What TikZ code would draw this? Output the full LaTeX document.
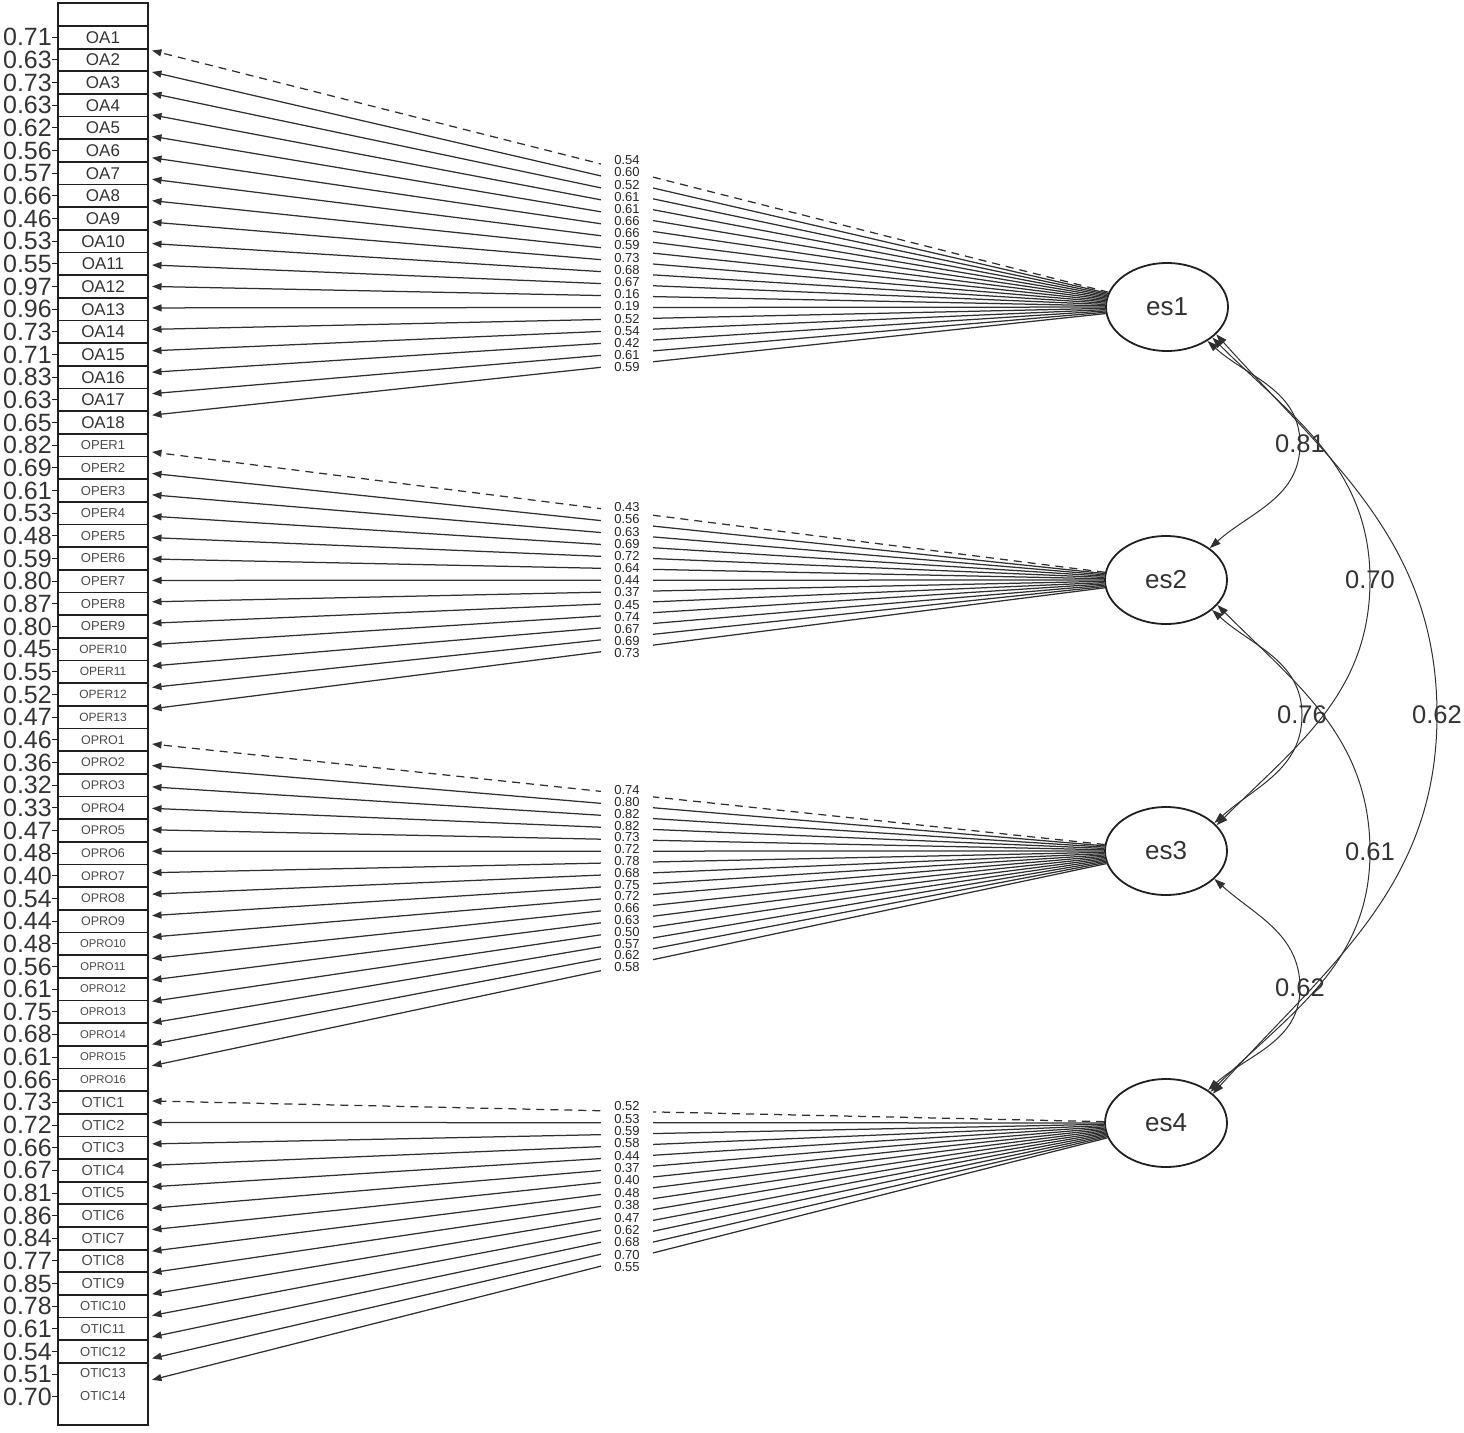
\documentclass[tikz,border=0pt]{standalone}
\usepackage{fontspec}
\setmainfont{Liberation Sans}
\usetikzlibrary{arrows.meta,shapes.geometric}
\definecolor{ln}{HTML}{303030}
\definecolor{bx}{HTML}{202020}
\definecolor{tx}{HTML}{333333}
\definecolor{tx2}{HTML}{4A4A4A}
\begin{document}
\begin{tikzpicture}[x=1pt,y=-1pt,
  itembox/.style={draw=bx, line width=1.7pt, minimum width=90pt, minimum height=22.66pt, inner sep=0pt, text=tx},
  itemtext/.style={inner sep=0pt, text=tx2},
  numlab/.style={inner sep=0pt, anchor=east, text=tx, font=\fontsize{25}{25}\selectfont},
  tickln/.style={draw=bx, line width=1pt},
  latent/.style={ellipse, draw=bx, line width=1.8pt, minimum width=122pt, minimum height=88pt, inner sep=0pt, font=\fontsize{26}{26}\selectfont, text=tx},
  load/.style={draw=ln, line width=1.25pt, -{Triangle[length=9.5pt,width=7pt]}},
  loaddash/.style={load, dash pattern=on 8pt off 6pt},
  loadlab/.style={fill=white, inner xsep=0pt, inner ysep=0pt, minimum width=52pt, text height=9.4pt, text depth=0pt, text=black!85, font=\fontsize{13}{13}\selectfont},
  corr/.style={draw=ln, line width=1pt, {Triangle[length=11pt,width=7.5pt]}-{Triangle[length=11pt,width=7.5pt]}},
  corrlab/.style={inner sep=0pt, text=tx, font=\fontsize{25.5}{25.5}\selectfont}
]
\useasboundingbox (0,0) rectangle (1464,1432);

% ---------- indicator column ----------
\node[itembox, minimum height=23pt] (topbox) at (103,14.5) {};
\foreach \j in {1,...,18} {
  \pgfmathsetmacro\cy{37.33+22.66*(\j-1)}
  \node[itembox, font=\fontsize{17}{17}\selectfont] (OA\j) at (103,\cy) {OA\j};
}
\foreach \j in {1,...,13} {
  \pgfmathsetmacro\cy{37.33+22.66*(\j+17)}
  \pgfmathsetmacro\fs{\j<10 ? 13 : 12}
  \node[itembox, text=tx2, font=\fontsize{\fs}{\fs}\selectfont] (OPER\j) at (103,\cy) {OPER\j};
}
\foreach \j in {1,...,16} {
  \pgfmathsetmacro\cy{37.33+22.66*(\j+30)}
  \pgfmathsetmacro\fs{\j<10 ? 12.5 : 11.3}
  \node[itembox, text=tx2, font=\fontsize{\fs}{\fs}\selectfont] (OPRO\j) at (103,\cy) {OPRO\j};
}
\foreach \j in {1,...,12} {
  \pgfmathsetmacro\cy{37.33+22.66*(\j+46)}
  \pgfmathsetmacro\fs{\j<10 ? 14.5 : 13}
  \node[itembox, text=tx2, font=\fontsize{\fs}{\fs}\selectfont] (OTIC\j) at (103,\cy) {OTIC\j};
}
\node[itembox, minimum height=62pt] (lastbox) at (103,1394) {};
\node[itemtext, font=\fontsize{13}{13}\selectfont] (OTIC13) at (103,1373) {OTIC13};
\node[itemtext, font=\fontsize{13}{13}\selectfont] (OTIC14) at (103,1396) {OTIC14};

% ---------- residual values ----------
\foreach \v [count=\k from 0] in {0.71,0.63,0.73,0.63,0.62,0.56,0.57,0.66,0.46,0.53,0.55,0.97,0.96,0.73,0.71,0.83,0.63,0.65,
  0.82,0.69,0.61,0.53,0.48,0.59,0.80,0.87,0.80,0.45,0.55,0.52,0.47,
  0.46,0.36,0.32,0.33,0.47,0.48,0.40,0.54,0.44,0.48,0.56,0.61,0.75,0.68,0.61,0.66,
  0.73,0.72,0.66,0.67,0.81,0.86,0.84,0.77,0.85,0.78,0.61,0.54,0.51,0.70} {
  \pgfmathsetmacro\cy{37.33+22.66*\k}
  \node[numlab] (n\k) at (52,\cy) {\v};
  \draw[tickln] (n\k.east) -- ++(6,0);
}

% ---------- latent variables ----------
\node[latent] (es1) at (1167,307) {es1};
\node[latent] (es2) at (1166,580) {es2};
\node[latent] (es3) at (1166,851) {es3};
\node[latent] (es4) at (1166,1123) {es4};

% ---------- arrow targets ----------
\foreach \j in {1,...,18} \coordinate (tOA\j) at (152,{50.5+21.45*(\j-1)});
\foreach \j in {1,...,13} \coordinate (tOPER\j) at (152,{452+21.4*(\j-1)});
\foreach \j in {1,...,16} \coordinate (tOPRO\j) at (152,{744+21.45*(\j-1)});
\foreach \j in {1,...,14} \coordinate (tOTIC\j) at (152,{1101+21.45*(\j-1)});

% ---------- loadings ----------
\draw[loaddash] (es1) -- (tOA1);
\foreach \j in {2,...,18} \draw[load] (es1) -- (tOA\j);
\draw[loaddash] (es2) -- (tOPER1);
\foreach \j in {2,...,13} \draw[load] (es2) -- (tOPER\j);
\draw[loaddash] (es3) -- (tOPRO1);
\foreach \j in {2,...,16} \draw[load] (es3) -- (tOPRO\j);
\draw[loaddash] (es4) -- (tOTIC1);
\foreach \j in {2,...,14} \draw[load] (es4) -- (tOTIC\j);

\foreach \v [count=\j] in {0.54,0.60,0.52,0.61,0.61,0.66,0.66,0.59,0.73,0.68,0.67,0.16,0.19,0.52,0.54,0.42,0.61,0.59}
  \node[loadlab, minimum height=12.2pt] (la\j) at (627,{160+12.18*(\j-1)}) {\v};
\foreach \v [count=\j] in {0.43,0.56,0.63,0.69,0.72,0.64,0.44,0.37,0.45,0.74,0.67,0.69,0.73}
  \node[loadlab, minimum height=12.2pt] (lb\j) at (627,{507+12.17*(\j-1)}) {\v};
\foreach \v [count=\j] in {0.74,0.80,0.82,0.82,0.73,0.72,0.78,0.68,0.75,0.72,0.66,0.63,0.50,0.57,0.62,0.58}
  \node[loadlab, minimum height=11.8pt] (lc\j) at (627,{790+11.8*(\j-1)}) {\v};
\foreach \v [count=\j] in {0.52,0.53,0.59,0.58,0.44,0.37,0.40,0.48,0.38,0.47,0.62,0.68,0.70,0.55}
  \node[loadlab, minimum height=12.4pt] (ld\j) at (627,{1106+12.38*(\j-1)}) {\v};

% ---------- correlations ----------
\coordinate (k12) at (1300,444);
\coordinate (k13) at (1370,580);
\coordinate (k14) at (1437,715);
\coordinate (k23) at (1302,715);
\coordinate (k24) at (1370,852);
\coordinate (k34) at (1300,988);

\draw[corr] (es1.-40) to[out=-42,in=90] (k12) to[out=-90,in=42] (es2.36);
\draw[corr] (es1.-34) to[out=-45,in=90] (k13) to[out=-90,in=45] (es3.27);
\draw[corr] (es1.-29) to[out=-48,in=90] (k14) to[out=-90,in=48] (es4.32);
\draw[corr] (es2.-33) to[out=-42,in=90] (k23) to[out=-90,in=42] (es3.30);
\draw[corr] (es2.-26) to[out=-45,in=90] (k24) to[out=-90,in=45] (es4.35);
\draw[corr] (es3.-30) to[out=-42,in=90] (k34) to[out=-90,in=42] (es4.38);

\node[corrlab] (r12) at (k12) {0.81};
\node[corrlab] (r13) at (k13) {0.70};
\node[corrlab] (r14) at (k14) {0.62};
\node[corrlab] (r23) at (k23) {0.76};
\node[corrlab] (r24) at (k24) {0.61};
\node[corrlab] (r34) at (k34) {0.62};
\end{tikzpicture}
\end{document}
